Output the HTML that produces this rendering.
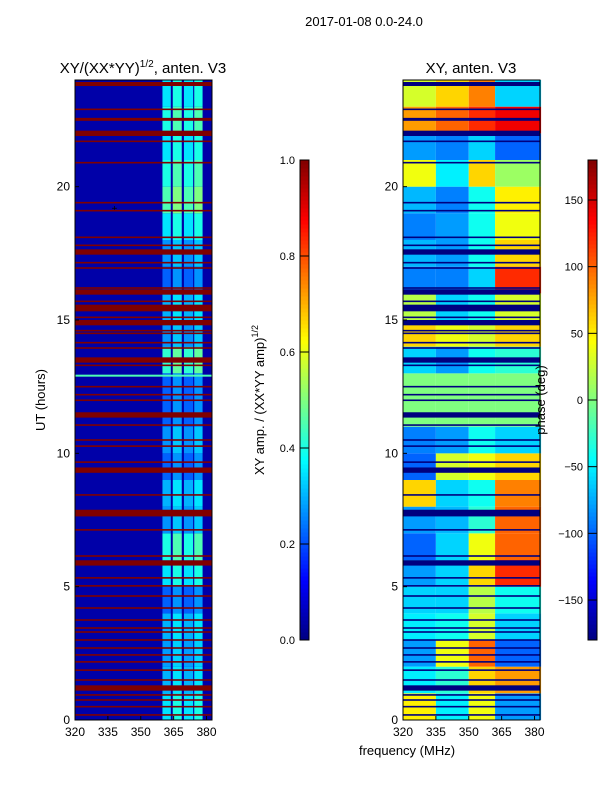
<!DOCTYPE html>
<html><head><meta charset="utf-8">
<style>
body{margin:0;background:#fff;width:600px;height:800px;overflow:hidden;font-family:"Liberation Sans",sans-serif}
svg text{font-family:"Liberation Sans",sans-serif;fill:#000}
</style></head>
<body>
<svg id="fig" width="600" height="800" xmlns="http://www.w3.org/2000/svg">
<text x="364" y="26" font-size="13" text-anchor="middle">2017-01-08 0.0-24.0</text>
<text x="143" y="73" font-size="15" text-anchor="middle">XY/(XX*YY)<tspan font-size="10" dy="-6">1/2</tspan><tspan dy="6">, anten. V3</tspan></text>
<text x="471" y="73" font-size="15" text-anchor="middle">XY, anten. V3</text>
<text x="45" y="400" font-size="13" text-anchor="middle" transform="rotate(-90 45 400)">UT (hours)</text>
<text x="407" y="755" font-size="13" text-anchor="middle">frequency (MHz)</text>
<text x="264" y="400" font-size="13" text-anchor="middle" transform="rotate(-90 264 400)">XY amp. / (XX*YY amp)<tspan font-size="9" dy="-6">1/2</tspan></text>
<g id="left"></g><g id="right"></g><g id="cbs"></g>
<text x="545" y="400" font-size="13" text-anchor="middle" transform="rotate(-90 545 400)">phase (deg)</text>
</svg>
<script>
// ---- data ----
const hourTicks=[0,5,10,15,20];
const freqTicks=[320,335,350,365,380];
const ampTicks=[0.0,0.2,0.4,0.6,0.8,1.0];
const phaseTicks=[-150,-100,-50,0,50,100,150];
const flagHours=[23.85,22.9,22.55,22.5,22.0,21.7,20.9,19.4,19.1,18.1,17.8,17.55,17.15,16.95,16.2,16.05,15.7,15.45,15.1,14.9,14.6,14.5,14.15,13.95,13.5,13.3,12.5,12.2,11.99,11.44,11.06,10.5,10.27,9.67,9.37,8.44,7.76,7.13,6.15,5.89,5.33,5.03,4.65,4.2,3.75,3.45,3.3,3.0,2.7,2.44,2.18,1.87,1.5,1.2,0.94,0.75,0.5,0.19];
const flagWidths=[0.15,0.06,0.06,0.06,0.2,0.06,0.06,0.06,0.06,0.06,0.06,0.2,0.06,0.06,0.06,0.2,0.06,0.25,0.06,0.2,0.06,0.06,0.06,0.06,0.2,0.06,0.06,0.06,0.06,0.2,0.06,0.06,0.06,0.06,0.2,0.06,0.25,0.06,0.06,0.2,0.06,0.06,0.06,0.06,0.06,0.06,0.06,0.06,0.06,0.06,0.06,0.06,0.06,0.2,0.06,0.06,0.06,0.06];
const bandFreqs=[[359.9,363.7],[364.6,368.7],[369.7,373.9],[374.4,378.2]];
const bandAmp=[0.35,0.3,0.28,0.3,0.22,0.35,0.4,0.27,0.3,0.22,0.27,0.22,0.22,0.42,0.27,0.3,0.22,0.27,0.35,0.45,0.4,0.35,0.4,0.35];
const phaseCols=[320,335,350,362,383];
const phaseRows=[[50,-50,40,-80],[-50,-30,60,80],[-80,40,100,-100],[-50,-40,30,-60],[-60,-60,20,-40],[-80,-60,60,120],[-100,-60,40,100],[-80,-70,-30,100],[60,-60,-40,90],[-100,30,40,60],[-90,-80,-40,-60],[0,0,0,0],[0,0,0,0],[-60,-80,-40,-30],[60,40,30,60],[20,-60,-40,30],[-90,-90,-60,120],[-70,-80,-40,60],[-90,-80,-40,40],[-70,-90,-40,50],[40,-50,60,10],[-80,-90,-60,-100],[80,100,120,140],[30,60,90,-60]];
// ---- helpers ----
const NS="http://www.w3.org/2000/svg";
function jet(v){v=Math.max(0,Math.min(1,v));const c=x=>Math.round(255*Math.max(0,Math.min(1,x)));
return `rgb(${c(1.5-Math.abs(4*v-3))},${c(1.5-Math.abs(4*v-2))},${c(1.5-Math.abs(4*v-1))})`;}
function mk(p,t,a){const e=document.createElementNS(NS,t);for(const k in a)e.setAttribute(k,a[k]);p.appendChild(e);return e;}
const Y0=720,Y1=80;
const yScale=h=>Y0-(h/24)*(Y0-Y1);
function xScaleFor(x0){return f=>x0+(f-320)*137/62.5;}
function panel(g,x0,kind){
  const xs=xScaleFor(x0);
  if(kind==='amp'){
    const bg=mk(g,'rect',{x:x0,y:Y1,width:137,height:640,fill:jet(0.04)});
    
    bandAmp.forEach((a,h)=>{bandFreqs.forEach((b,j)=>{
      const r=mk(g,'rect',{x:xs(b[0]),y:yScale(h+1),width:xs(b[1])-xs(b[0]),height:yScale(h)-yScale(h+1),fill:jet(a+(j%2)*0.05)});
      });});
    const cl=mk(g,'rect',{x:x0,y:yScale(12.95),width:137,height:2,fill:jet(0.45)});
    
    const st=mk(g,'text',{x:xs(338),y:yScale(19.2)+4,'font-size':10,'text-anchor':'middle',fill:jet(0.6)});st.textContent='+';
    
  } else {
    phaseRows.forEach((row,h)=>{row.forEach((v,j)=>{
      const r=mk(g,'rect',{x:xs(phaseCols[j]),y:yScale(h+1),width:xs(phaseCols[j+1])-xs(phaseCols[j]),height:yScale(h)-yScale(h+1),fill:jet((v+180)/360)});
      });});
  }
  flagHours.forEach((h,i)=>{const w=flagWidths[i];
    const r=mk(g,'rect',{x:x0,y:yScale(h+w/2),width:137,height:Math.max(1.2,yScale(h-w/2)-yScale(h+w/2)),fill:kind==='amp'?'#800000':'#00007f'});
    });
  const fr=mk(g,'rect',{x:x0,y:Y1,width:137,height:640,fill:'none',stroke:'#000','stroke-width':1});
  
  hourTicks.forEach(h=>{const y=yScale(h);
    mk(g,'line',{x1:x0,x2:x0+4,y1:y,y2:y,stroke:'#000'});
    const t=mk(g,'text',{x:x0-5,y:y+4,'font-size':12,'text-anchor':'end'});t.textContent=h;
    });
  freqTicks.forEach(f=>{const x=xs(f);
    mk(g,'line',{x1:x,x2:x,y1:Y0,y2:Y0-4,stroke:'#000'});
    const t=mk(g,'text',{x:x,y:Y0+16,'font-size':12,'text-anchor':'middle'});t.textContent=f;
    });
}
panel(document.getElementById('left'),75,'amp');
panel(document.getElementById('right'),403,'phase');
function colorbar(x,ticks,lo,hi,name){
  const g=document.getElementById('cbs');
  for(let i=0;i<120;i++){mk(g,'rect',{x:x,y:640-(i+1)*4,width:9,height:4.5,fill:jet((i+0.5)/120)});}
  const fr=mk(g,'rect',{x:x,y:160,width:9,height:480,fill:'none',stroke:'#000'});
  
  ticks.forEach(v=>{const y=640-(v-lo)/(hi-lo)*480;
    mk(g,'line',{x1:x,x2:x+9,y1:y,y2:y,stroke:'#000'});
    const t=mk(g,'text',{x:x-5,y:y+4,'font-size':11,'text-anchor':'end'});
    t.textContent=(lo===0?v.toFixed(1):String(v).replace('-','\u2212'));
    });
}
colorbar(300,ampTicks,0,1,'amp-colorbar');
colorbar(588,phaseTicks,-180,180,'phase-colorbar');
</script>
</body></html>
